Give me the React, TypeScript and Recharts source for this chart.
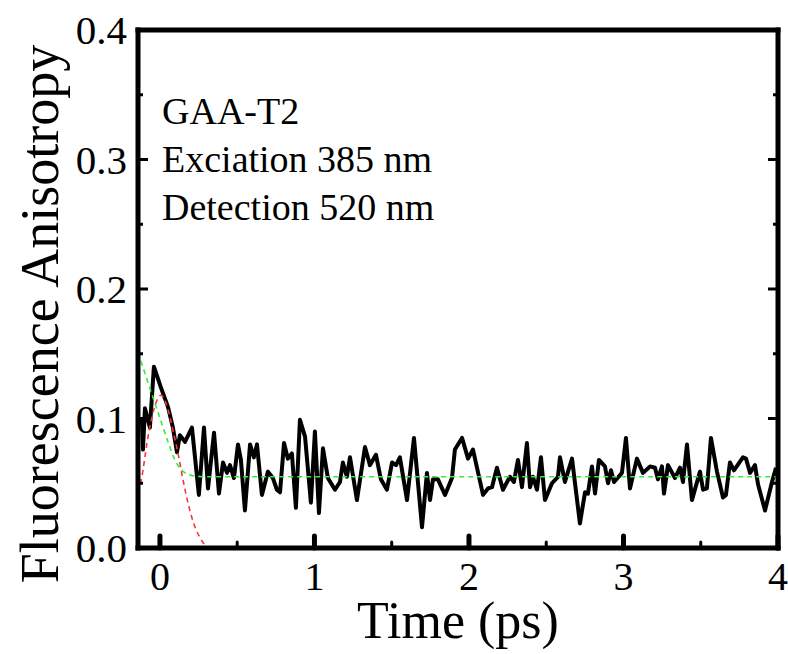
import { LineChart, Line, XAxis, YAxis } from "recharts";

const FONT = "'Times New Roman', 'Liberation Serif', serif";

// measured anisotropy trace
const time = [
  -0.117, -0.11, -0.097, -0.065, -0.039, 0.006, 0.052, 0.084, 0.11, 0.129,
  0.162, 0.207, 0.252, 0.285, 0.311, 0.35, 0.382, 0.408, 0.434, 0.453,
  0.479, 0.505, 0.524, 0.55, 0.583, 0.608, 0.628, 0.66, 0.699, 0.731,
  0.757, 0.777, 0.803, 0.828, 0.854, 0.88, 0.906, 0.939, 0.977, 1.003,
  1.029, 1.055, 1.087, 1.133, 1.165, 1.184, 1.21, 1.23, 1.275, 1.327,
  1.359, 1.398, 1.43, 1.469, 1.502, 1.528, 1.553, 1.599, 1.644, 1.696,
  1.728, 1.748, 1.767, 1.799, 1.845, 1.89, 1.909, 1.955, 1.994, 2.026,
  2.091, 2.123, 2.149, 2.181, 2.22, 2.265, 2.291, 2.317, 2.343, 2.375,
  2.395, 2.414, 2.44, 2.466, 2.492, 2.537, 2.576, 2.589, 2.621, 2.667,
  2.718, 2.751, 2.77, 2.796, 2.816, 2.841, 2.88, 2.9, 2.919, 2.939,
  2.99, 3.016, 3.042, 3.087, 3.126, 3.172, 3.204, 3.223, 3.249, 3.262,
  3.288, 3.333, 3.366, 3.385, 3.411, 3.443, 3.495, 3.515, 3.54, 3.566,
  3.605, 3.644, 3.663, 3.689, 3.715, 3.773, 3.793, 3.819, 3.851, 3.871,
  3.916, 3.961, 3.987,
];
const anisotropy = [
  0.1, 0.076, 0.108, 0.093, 0.14, 0.124, 0.109, 0.093, 0.074, 0.087,
  0.082, 0.093, 0.041, 0.093, 0.046, 0.089, 0.042, 0.066, 0.058, 0.064,
  0.054, 0.08, 0.068, 0.029, 0.08, 0.07, 0.08, 0.041, 0.059, 0.054,
  0.045, 0.043, 0.081, 0.069, 0.073, 0.031, 0.099, 0.086, 0.035, 0.09,
  0.027, 0.077, 0.054, 0.045, 0.051, 0.066, 0.055, 0.07, 0.037, 0.078,
  0.064, 0.072, 0.053, 0.045, 0.066, 0.064, 0.07, 0.037, 0.085, 0.016,
  0.058, 0.037, 0.053, 0.053, 0.041, 0.054, 0.076, 0.085, 0.069, 0.076,
  0.041, 0.046, 0.047, 0.062, 0.045, 0.055, 0.051, 0.068, 0.047, 0.081,
  0.047, 0.055, 0.045, 0.07, 0.037, 0.05, 0.055, 0.07, 0.051, 0.069,
  0.019, 0.043, 0.042, 0.063, 0.042, 0.068, 0.063, 0.05, 0.06, 0.051,
  0.058, 0.085, 0.046, 0.069, 0.058, 0.063, 0.062, 0.053, 0.063, 0.042,
  0.064, 0.054, 0.062, 0.051, 0.08, 0.037, 0.059, 0.045, 0.046, 0.085,
  0.059, 0.039, 0.041, 0.066, 0.06, 0.07, 0.069, 0.058, 0.064, 0.049,
  0.029, 0.051, 0.062,
];

// decay fit (green)
const fitTime = [-0.142, -0.078, -0.013, 0.052, 0.097, 0.142, 0.207, 0.3, 4];
const fitValue = [0.151, 0.128, 0.105, 0.082, 0.068, 0.06, 0.056, 0.055, 0.055];

// instrument response (red)
const irfTime = [
  -0.142, -0.117, -0.084, -0.052, -0.019, 0.006, 0.052, 0.084, 0.117, 0.149,
  0.181, 0.213, 0.259, 0.311, 0.4, 4,
];
const irfValue = [
  0.043, 0.055, 0.081, 0.101, 0.114, 0.118, 0.107, 0.091, 0.073, 0.053,
  0.035, 0.021, 0.008, 0.001, 0, 0,
];

const xTicks = [0, 0.5, 1, 1.5, 2, 2.5, 3, 3.5, 4];
const yTicks = [0, 0.05, 0.1, 0.15, 0.2, 0.25, 0.3, 0.35, 0.4];
const notes = ["GAA-T2", "Exciation 385 nm", "Detection 520 nm"];

const trace = time.map((t, i) => ({ t, v: anisotropy[i] }));
const fit = fitTime.map((t, i) => ({ t, v: fitValue[i] }));
const irf = irfTime.map((t, i) => ({ t, v: irfValue[i] }));

const isMajorX = (v: number) => Number.isInteger(v);
const isMajorY = (v: number) => Math.round(v * 100) % 10 === 0;

const BottomTick = (props: any) => {
  const { x, y, payload } = props;
  const major = isMajorX(payload.value);
  return (
    <g>
      <line x1={x} y1={y} x2={x} y2={y - (major ? 12 : 6)} stroke="#000" strokeWidth={major ? 5 : 3} strokeLinecap="round" />
      {major && (
        <text x={x} y={y + 42} textAnchor="middle" fontFamily={FONT} fontSize={40} fill="#000">
          {payload.value}
        </text>
      )}
    </g>
  );
};

const LeftTick = (props: any) => {
  const { x, y, payload } = props;
  const major = isMajorY(payload.value);
  return (
    <g>
      <line x1={x} y1={y} x2={x + (major ? 10 : 5)} y2={y} stroke="#000" strokeWidth={3} />
      {major && (
        <text x={x - 11} y={y + 14} textAnchor="end" fontFamily={FONT} fontSize={41} fill="#000">
          {payload.value.toFixed(1)}
        </text>
      )}
    </g>
  );
};

const RightTick = (props: any) => {
  const { x, y, payload } = props;
  const major = isMajorY(payload.value);
  return <line x1={x} y1={y} x2={x - (major ? 10 : 5)} y2={y} stroke="#000" strokeWidth={3} />;
};

const XTitle = (props: any) => {
  const vb = props.viewBox;
  return (
    <text x={vb.x + vb.width / 2} y={vb.y + 90} textAnchor="middle" fontFamily={FONT} fontSize={52} fill="#000">
      Time (ps)
    </text>
  );
};

const YTitle = (props: any) => {
  const vb = props.viewBox;
  const cx = 58;
  const cy = vb.y + vb.height / 2 + 25;
  return (
    <text x={cx} y={cy} transform={`rotate(-90, ${cx}, ${cy})`} textAnchor="middle" fontFamily={FONT} fontSize={54} fill="#000">
      Fluorescence Anisotropy
    </text>
  );
};

const frame = { stroke: "#000", strokeWidth: 5, strokeLinecap: "square" as const };

export default function App() {
  return (
    <div style={{ position: "absolute", left: 0, top: 0, width: 788, height: 654, background: "#fff" }}>
      <LineChart width={788} height={654} margin={{ top: 20, right: 0, bottom: 0, left: 0 }}>
        <XAxis
          xAxisId="b"
          dataKey="t"
          type="number"
          domain={[-0.142, 4]}
          allowDataOverflow
          ticks={xTicks}
          interval={0}
          height={106}
          tickSize={0}
          tickMargin={0}
          tickLine={false}
          axisLine={frame}
          tick={<BottomTick />}
          label={{ content: <XTitle /> }}
        />
        <XAxis
          xAxisId="t"
          orientation="top"
          dataKey="t"
          type="number"
          domain={[-0.142, 4]}
          allowDataOverflow
          height={10}
          tick={false}
          tickLine={false}
          axisLine={frame}
        />
        <YAxis
          yAxisId="l"
          type="number"
          domain={[0, 0.4]}
          allowDataOverflow
          ticks={yTicks}
          interval={0}
          width={138}
          tickSize={0}
          tickMargin={0}
          tickLine={false}
          axisLine={frame}
          tick={<LeftTick />}
          label={{ content: <YTitle /> }}
        />
        <YAxis
          yAxisId="r"
          orientation="right"
          type="number"
          domain={[0, 0.4]}
          allowDataOverflow
          ticks={yTicks}
          interval={0}
          width={10}
          tickSize={0}
          tickMargin={0}
          tickLine={false}
          axisLine={frame}
          tick={<RightTick />}
        />
        <Line xAxisId="b" yAxisId="l" data={trace} dataKey="v" type="linear" stroke="#000" strokeWidth={4} strokeLinejoin="round" dot={false} isAnimationActive={false} />
        <Line xAxisId="b" yAxisId="l" data={fit} dataKey="v" type="monotone" stroke="#33ee33" strokeWidth={1.6} strokeDasharray="5 4" dot={false} isAnimationActive={false} />
        <Line xAxisId="b" yAxisId="l" data={irf} dataKey="v" type="monotone" stroke="#ff3333" strokeWidth={1.6} strokeDasharray="5 4" dot={false} isAnimationActive={false} />
      </LineChart>
      <svg width={788} height={654} style={{ position: "absolute", left: 0, top: 0, pointerEvents: "none" }}>
        {notes.map((n, i) => (
          <text key={n} x={162} y={124 + i * 48} fontFamily={FONT} fontSize={38} fill="#000">
            {n}
          </text>
        ))}
      </svg>
    </div>
  );
}
